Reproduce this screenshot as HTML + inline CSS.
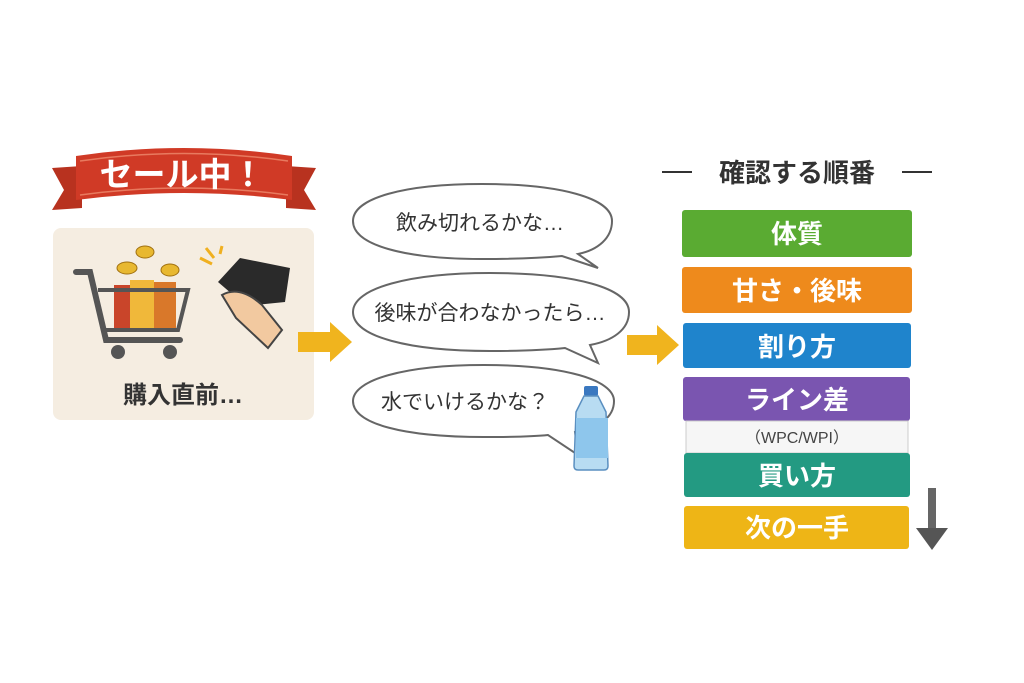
<!DOCTYPE html>
<html><head><meta charset="utf-8"><style>
html,body{margin:0;padding:0;background:#fff;}
svg{display:block;}
text{font-family:"Liberation Sans","Noto Sans CJK JP",sans-serif;}
</style></head><body>
<svg width="1024" height="683" viewBox="0 0 1024 683" xmlns="http://www.w3.org/2000/svg">
<rect width="1024" height="683" fill="#fff"/>
<polygon points="52,168 82,166 82,208 52,210 64,190" fill="#b8321f"/>
<polygon points="316,168 286,166 286,208 316,210 304,190" fill="#b8321f"/>
<path d="M76,156 Q184,140 292,156 L292,200 Q184,186 76,200 Z" fill="#d03a26"/>
<path d="M80,161 Q184,146 288,161" stroke="#e87a5f" stroke-width="1.5" fill="none"/>
<path d="M80,195 Q184,181 288,195" stroke="#e87a5f" stroke-width="1.5" fill="none"/>
<text x="182" y="186" font-size="33" font-weight="bold" fill="#fff" text-anchor="middle">セール中！</text>
<rect x="53" y="228" width="261" height="192" rx="8" fill="#f5ede1"/>
<g>
<rect x="114" y="285" width="16" height="43" fill="#c9452a"/>
<rect x="130" y="280" width="24" height="48" fill="#f0b83a"/>
<rect x="154" y="282" width="22" height="46" fill="#d9782a"/>
<path d="M76,272 L90,272 L106,340 L180,340" stroke="#555" stroke-width="6" fill="none" stroke-linecap="round"/>
<path d="M98,290 L188,290 L178,330 L106,330" stroke="#555" stroke-width="4" fill="none"/>
<circle cx="118" cy="352" r="7" fill="#555"/><circle cx="170" cy="352" r="7" fill="#555"/>
<ellipse cx="145" cy="252" rx="9" ry="6" fill="#e8b830" stroke="#a07010"/>
<ellipse cx="127" cy="268" rx="10" ry="6" fill="#e8b830" stroke="#a07010"/>
<ellipse cx="170" cy="270" rx="9" ry="6" fill="#e8b830" stroke="#a07010"/>
</g>
<path d="M218,282 L240,258 L290,268 L285,302 L246,306 Z" fill="#2a2a2a"/>
<path d="M222,295 Q240,285 262,305 L282,330 L268,348 L236,318 Z" fill="#f2c9a0" stroke="#444" stroke-width="2"/>
<path d="M200,258 L212,264 M206,248 L214,258 M222,246 L220,254" stroke="#f0b020" stroke-width="3"/>
<text x="183" y="403" font-size="24" font-weight="bold" fill="#333" text-anchor="middle">購入直前…</text>
<polygon points="298,332 330,332 330,322 352,342 330,362 330,352 298,352" fill="#f0b41e"/>
<g fill="#fff" stroke="#666" stroke-width="2">
<path d="M482,184 C560,184 612,198 612,221 C612,238 598,250 578,254 L598,268 L562,256 C540,258 510,259 482,259 C404,259 353,245 353,221 C353,198 404,184 482,184 Z"/>
<path d="M490,273 C575,273 629,288 629,312 C629,330 612,341 590,345 L598,363 L565,348 C545,350 515,351 490,351 C410,351 353,337 353,312 C353,288 410,273 490,273 Z"/>
<path d="M484,365 C565,365 614,380 614,401 C614,418 598,428 575,432 L578,455 L548,435 C530,437 505,437 484,437 C404,437 353,424 353,401 C353,380 404,365 484,365 Z"/>
</g>
<text x="480" y="230" font-size="21" fill="#333" text-anchor="middle">飲み切れるかな…</text>
<text x="490" y="320" font-size="21" fill="#333" text-anchor="middle">後味が合わなかったら…</text>
<text x="465" y="409" font-size="21" fill="#333" text-anchor="middle">水でいけるかな？</text>
<rect x="584" y="386" width="14" height="10" rx="2" fill="#3a78c0"/>
<path d="M584,396 L598,396 L606,412 L608,466 Q608,470 604,470 L578,470 Q574,470 574,466 L576,412 Z" fill="#b8dcf2" stroke="#5a8fc0" stroke-width="1.5"/>
<rect x="576" y="418" width="32" height="40" fill="#8ec6ec"/>
<polygon points="627,335 657,335 657,325 679,345 657,365 657,355 627,355" fill="#f0b41e"/>
<line x1="662" y1="172" x2="692" y2="172" stroke="#333" stroke-width="2"/>
<line x1="902" y1="172" x2="932" y2="172" stroke="#333" stroke-width="2"/>
<text x="797" y="182" font-size="26" font-weight="bold" fill="#333" text-anchor="middle">確認する順番</text>
<rect x="682" y="210" width="230" height="47" rx="3" fill="#5aab32"/>
<rect x="682" y="267" width="230" height="46" rx="3" fill="#ee8a1c"/>
<rect x="683" y="323" width="228" height="45" rx="3" fill="#1f84cc"/>
<rect x="683" y="377" width="227" height="44" rx="3" fill="#7a55b0"/>
<rect x="686" y="421" width="222" height="32" fill="#f6f6f6" stroke="#ccc"/>
<rect x="684" y="453" width="226" height="44" rx="3" fill="#239a82"/>
<rect x="684" y="506" width="225" height="43" rx="3" fill="#eeb516"/>
<g font-size="26" font-weight="bold" fill="#fff" text-anchor="middle">
<text x="797" y="243">体質</text>
<text x="797" y="300">甘さ・後味</text>
<text x="797" y="356">割り方</text>
<text x="797" y="409">ライン差</text>
<text x="797" y="485">買い方</text>
<text x="797" y="537">次の一手</text>
</g>
<text x="797" y="443" font-size="16" fill="#444" text-anchor="middle">（WPC/WPI）</text>
<rect x="928" y="488" width="8" height="42" fill="#666"/>
<polygon points="916,528 948,528 932,550" fill="#555"/>
</svg>
</body></html>
